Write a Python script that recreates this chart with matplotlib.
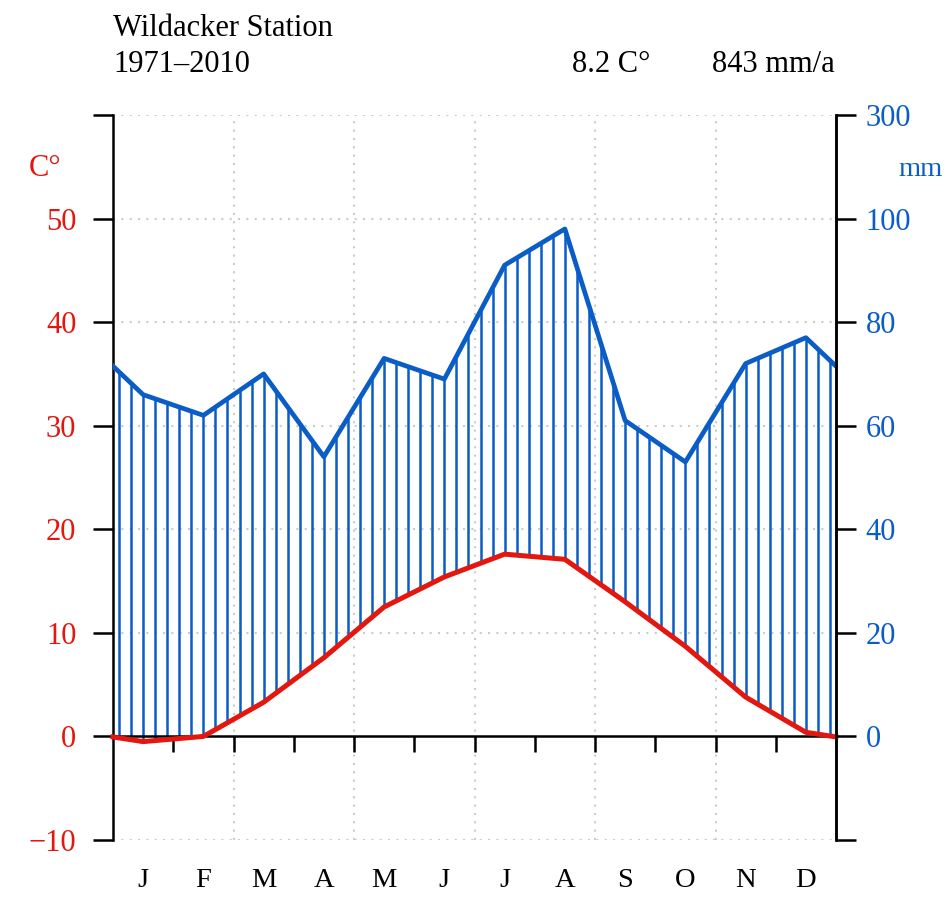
import numpy as np
import matplotlib
matplotlib.use("Agg")
import matplotlib.pyplot as plt

months = ["J", "F", "M", "A", "M", "J", "J", "A", "S", "O", "N", "D"]
temp = [-0.5, 0.0, 3.3, 7.6, 12.5, 15.4, 17.6, 17.1, 13.0, 8.7, 3.8, 0.4]
precip = [66, 62, 70, 54, 73, 69, 91, 98, 61, 53, 72, 77]
station = "Wildacker Station"
period = "1971\u20132010"
mean_temp_label = "8.2 C\u00b0"
annual_precip_label = "843 mm/a"
temp_ticks = [-10, 0, 10, 20, 30, 40, 50]
precip_tick_labels = ["0", "20", "40", "60", "80", "100", "300"]

RED = "#e3170e"
BLUE = "#0a5cc7"
GRID = "#cccccc"

plt.rcParams["font.family"] = ["Liberation Serif", "DejaVu Serif"]


def p2t(p):
    p = np.asarray(p, dtype=float)
    return np.where(p <= 100, p / 2.0, 50 + (p - 100) / 20.0)


t = np.array(temp, dtype=float)
pt = p2t(precip)
xc = np.arange(12) + 0.5
edge_t = (t[0] + t[-1]) / 2
edge_p = (pt[0] + pt[-1]) / 2
x_ext = np.concatenate([[0], xc, [12]])
t_ext = np.concatenate([[edge_t], t, [edge_t]])
p_ext = np.concatenate([[edge_p], pt, [edge_p]])

fig = plt.figure(figsize=(9.48, 9.10), dpi=100)
ax = fig.add_axes([113 / 948, 1 - 840 / 910, (836 - 113) / 948, (840 - 115) / 910])
ax.set_xlim(0, 12)
ax.set_ylim(-10, 60)

# grid
for yv in [-10, 10, 20, 30, 40, 50, 60]:
    ax.axhline(yv, color=GRID, lw=1.5, ls=(0, (1, 3)), zorder=0)
for xv in [2, 4, 6, 8, 10]:
    ax.axvline(xv, color=GRID, lw=1.5, ls=(0, (1, 3)), zorder=0)

# hatching
xh = np.arange(0.1, 12, 0.2)
th = np.interp(xh, x_ext, t_ext)
ph = np.interp(xh, x_ext, p_ext)
m = ph > th
ax.vlines(xh[m], th[m], ph[m], color=BLUE, lw=1.8, zorder=2)

ax.axhline(0, color="black", lw=1.8, zorder=3)
ax.plot(x_ext, p_ext, color=BLUE, lw=3.4, zorder=4)
ax.plot(x_ext, t_ext, color=RED, lw=3.6, zorder=5, clip_on=False)

# spines
for s in ["top", "bottom"]:
    ax.spines[s].set_visible(False)
for s in ["left", "right"]:
    ax.spines[s].set_linewidth(1.8)

ax.set_yticks(temp_ticks + [60])
ax.set_yticklabels([str(v).replace("-", "\u2212") for v in temp_ticks] + [""])
ax.tick_params(axis="y", length=14.4, width=1.8, pad=12, labelsize=22)
for lab in ax.get_yticklabels():
    lab.set_color(RED)

# bottom ticks at month boundaries on zero line
ax.set_xticks([])
ax.vlines(np.arange(1, 12), -1.55, 0, color="black", lw=1.8, zorder=3)

# month labels
for i, mname in enumerate(months):
    ax.text(xc[i], -13.9, mname, ha="center", va="center", fontsize=20.5, color="black")

# right axis
ax2 = ax.twinx()
ax2.set_ylim(-10, 60)
ax2.set_yticks([-10, 0, 10, 20, 30, 40, 50, 60])
ax2.set_yticklabels([""] + precip_tick_labels)
ax2.tick_params(axis="y", length=14.4, width=1.8, pad=7, labelsize=22)
for lab in ax2.get_yticklabels():
    lab.set_color(BLUE)
for s in ["top", "bottom", "left"]:
    ax2.spines[s].set_visible(False)
ax2.spines["right"].set_linewidth(1.8)

# axis unit labels
fig.text(45 / 948, 1 - 168 / 910, "C\u00b0", color=RED, fontsize=22, ha="center", va="center")
fig.text(921 / 948, 1 - 170 / 910, "mm", color=BLUE, fontsize=20.5, ha="center", va="center")

# header
fig.text(113 / 948, 1 - 36 / 910, station, fontsize=22, ha="left", va="baseline")
fig.text(113 / 948, 1 - 72 / 910, period, fontsize=22, ha="left", va="baseline")
fig.text(650 / 948, 1 - 72 / 910, mean_temp_label, fontsize=22, ha="right", va="baseline")
fig.text(835 / 948, 1 - 72 / 910, annual_precip_label, fontsize=22, ha="right", va="baseline")

fig.savefig("out.png", dpi=100)
